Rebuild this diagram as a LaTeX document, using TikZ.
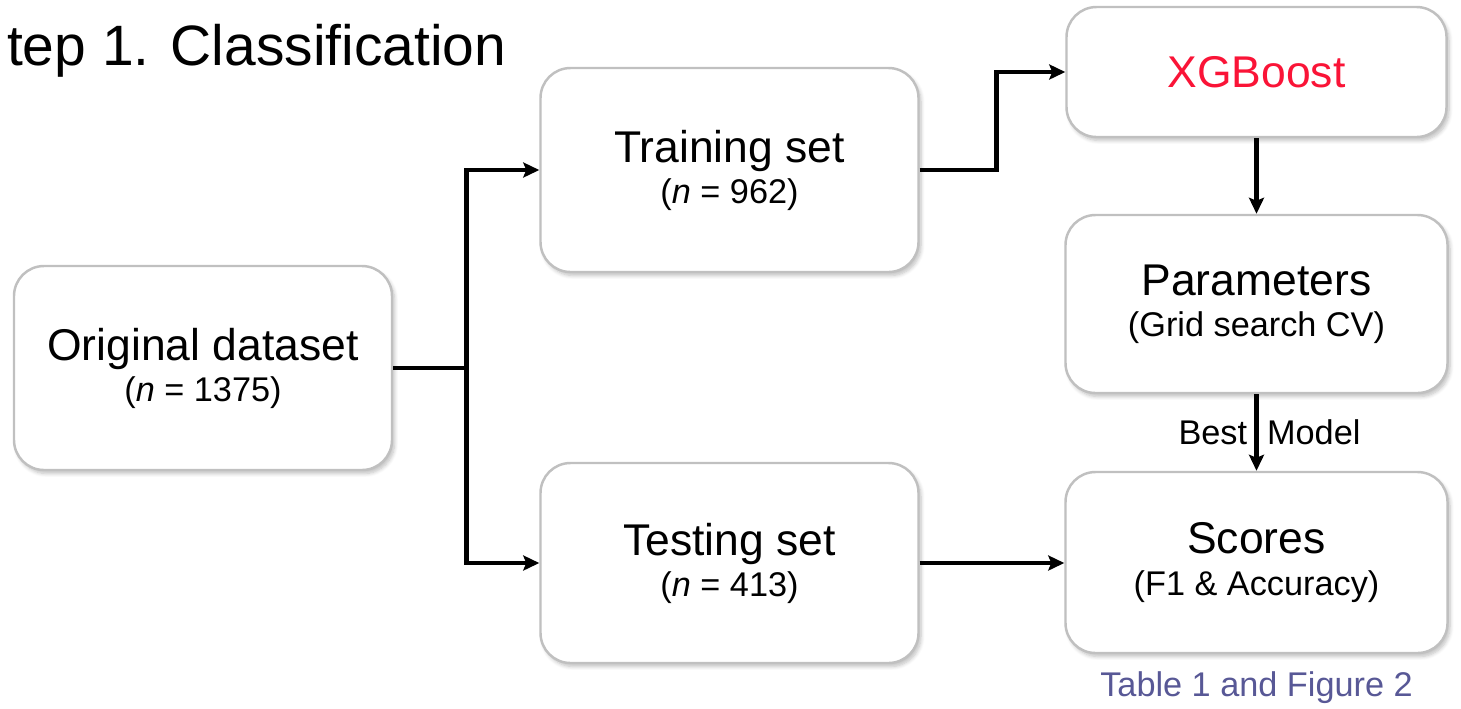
\documentclass[tikz,border=0pt]{standalone}
\usepackage{fontspec}
\setmainfont{Liberation Sans}
\usetikzlibrary{arrows.meta,positioning,shadows.blur}
\definecolor{xgbred}{RGB}{250,20,55}
\definecolor{reflink}{RGB}{88,88,150}
\definecolor{boxline}{RGB}{192,192,192}
\newcommand{\bigtxt}{\fontsize{25.3}{23.4}\selectfont}
\newcommand{\smalltxt}{\fontsize{19.5}{23}\selectfont}

\begin{document}
\begin{tikzpicture}[->,>={Stealth[length=0.32cm,width=0.3cm,inset=0.06cm]},line width=2.6pt,
node distance=4cm,on grid]
\tikzstyle{procbox}=[draw=boxline,line width=1.4pt,fill=white,rounded corners=0.6cm,
minimum width=7.56cm,inner sep=0pt,align=center,font=\bigtxt,
blur shadow={shadow xshift=0.05cm,shadow yshift=-0.07cm,shadow blur steps=6,shadow opacity=25}]

\useasboundingbox (0,0) rectangle (29.22,-14.16);

\node[anchor=base west,font=\fontsize{32.4}{36}\selectfont] (title) at (-0.02,-1.3) {tep 1. Classification};

\node[procbox,minimum height=4.08cm] (orig) at (4.06,-7.36)
  {Original dataset\\{\smalltxt(\textit{n} = 1375)}};
\node[procbox,minimum height=4.08cm] (train) [above right=3.96cm and 10.53cm of orig]
  {Training set\\{\smalltxt(\textit{n} = 962)}};
\node[procbox,minimum height=4.0cm] (test) [below right=3.90cm and 10.53cm of orig]
  {Testing set\\{\smalltxt(\textit{n} = 413)}};
\node[procbox,minimum height=2.6cm,minimum width=7.6cm,text=xgbred] (xgb) [above right=1.96cm and 10.54cm of train]
  {XGBoost};
\node[procbox,minimum height=3.56cm,minimum width=7.64cm] (param) [below=4.64cm of xgb]
  {Parameters\\{\smalltxt(Grid search CV)}};
\node[procbox,minimum height=3.62cm,minimum width=7.64cm] (scores) [below=5.17cm of param]
  {Scores\\{\smalltxt(F1 \& Accuracy)}};
\node[anchor=base,font=\smalltxt,text=reflink] (tabref) at ([yshift=-0.84cm]scores.south)
  {Table 1 and Figure 2};

% split to training / testing
\coordinate (split) at ([xshift=1.46cm]orig.east);
\draw[-] (orig.east) -- (split);
\draw (split) |- (train.west);
\draw (split) |- (test.west);

\draw (train.east) -- ++(1.54,0) |- (xgb.west);
\draw (xgb) -- (param);
\draw (param) -- (scores) node[midway,xshift=0.26cm,font=\smalltxt] {Best\hspace{0.4cm}Model};
\draw (test.east) -- (test.east -| scores.west);

\end{tikzpicture}
\end{document}
